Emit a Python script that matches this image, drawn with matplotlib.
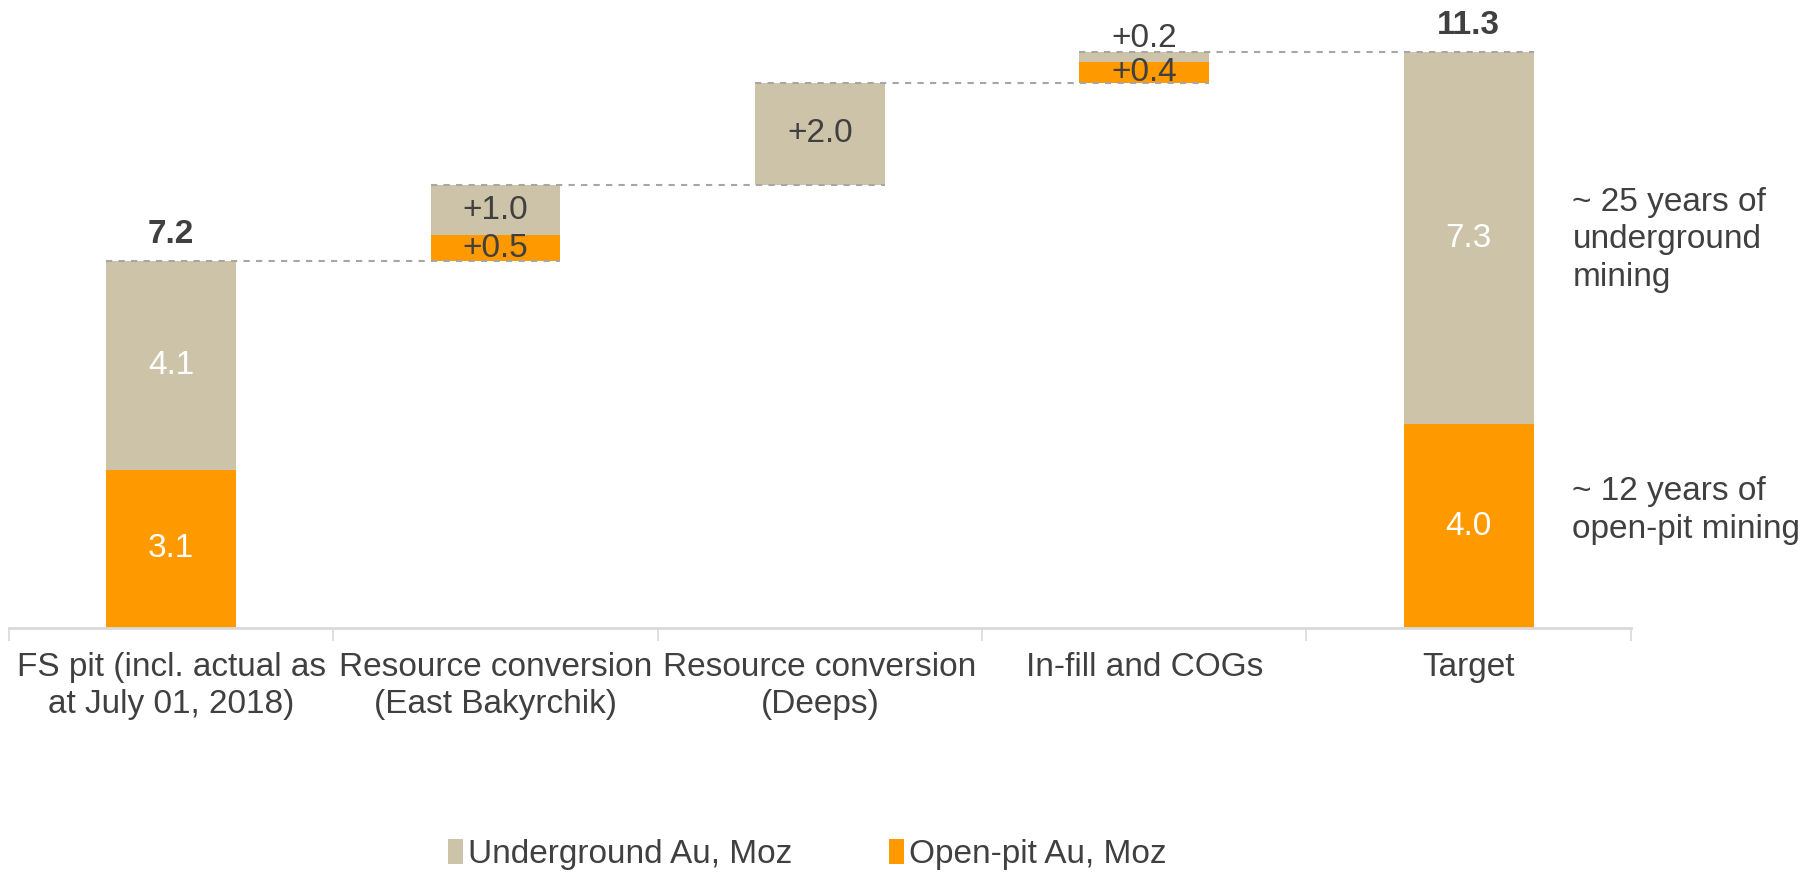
import numpy as np
import matplotlib.pyplot as plt

plt.rcParams['font.family'] = ['Liberation Sans', 'DejaVu Sans']

categories = ["FS pit (incl. actual as\nat July 01, 2018)",
              "Resource conversion\n(East Bakyrchik)",
              "Resource conversion\n(Deeps)",
              "In-fill and COGs",
              "Target"]
open_pit = [3.1, 0.5, 0.0, 0.4, 4.0]
underground = [4.1, 1.0, 2.0, 0.2, 7.3]
is_total = [True, False, False, False, True]
totals = {0: "7.2", 4: "11.3"}
notes = ["~ 25 years of\nunderground\nmining", "~ 12 years of\nopen-pit mining"]

TAN = '#CCC3A8'
ORANGE = '#FF9900'
DARK = '#404040'

fig = plt.figure(figsize=(18.06, 8.74), dpi=100)
ax = fig.add_axes([0.005, 0.2815, 0.898, 0.7185])

x = np.arange(len(categories))
w = 0.4

# waterfall bases
bases = []
run = 0.0
for i in range(len(categories)):
    if is_total[i]:
        bases.append(0.0)
        run = open_pit[i] + underground[i]
    else:
        bases.append(run)
        run += open_pit[i] + underground[i]
bases = np.array(bases)
op = np.array(open_pit)
ug = np.array(underground)
tops = bases + op + ug

ax.bar(x, op, w, bottom=bases, color=ORANGE, zorder=2, label='Open-pit Au, Moz')
ax.bar(x, ug, w, bottom=bases + op, color=TAN, zorder=2, label='Underground Au, Moz')

# connectors
for i in range(len(categories) - 1):
    ax.plot([x[i] - w / 2, x[i + 1] + w / 2], [tops[i], tops[i]],
            ls=(0, (3, 3)), color='#A6A6A6', lw=1.5, zorder=3)

fs = 24
for i in range(len(categories)):
    if is_total[i]:
        ax.text(x[i], bases[i] + op[i] / 2, f"{op[i]:.1f}", ha='center', va='center',
                color='white', fontsize=fs, zorder=4)
        ax.text(x[i], bases[i] + op[i] + ug[i] / 2, f"{ug[i]:.1f}", ha='center', va='center',
                color='white', fontsize=fs, zorder=4)
        ax.annotate(totals[i], (x[i], tops[i]), xytext=(0, 13), textcoords='offset points',
                    ha='center', va='baseline', fontsize=fs, fontweight='bold', color=DARK)
    else:
        if op[i] > 0:
            ax.text(x[i], bases[i] + op[i] / 2, f"+{op[i]:.1f}", ha='center', va='center',
                    color=DARK, fontsize=fs, zorder=4)
        if ug[i] >= 0.5:
            ax.text(x[i], bases[i] + op[i] + ug[i] / 2, f"+{ug[i]:.1f}", ha='center',
                    va='center', color=DARK, fontsize=fs, zorder=4)
        else:
            ax.text(x[i], tops[i] + 0.27, f"+{ug[i]:.1f}", ha='center', va='center',
                    color=DARK, fontsize=fs, zorder=4)

ax.text(4.32, 7.62, notes[0], ha='left', va='center', fontsize=fs, color=DARK,
        linespacing=1.27, clip_on=False)
ax.text(4.32, 2.3, notes[1], ha='left', va='center', fontsize=fs, color=DARK,
        linespacing=1.27, clip_on=False)

ax.set_xlim(-0.5, 4.5)
ax.set_ylim(0, 12.32)
ax.set_yticks([])
for s in ['top', 'right', 'left']:
    ax.spines[s].set_visible(False)
ax.spines['bottom'].set_color('#D9D9D9')
ax.spines['bottom'].set_linewidth(2)

ax.set_xticks(np.arange(-0.5, 5, 1.0))
ax.set_xticklabels([])
ax.tick_params(axis='x', length=9, width=1.2, color='#D9D9D9')
ax.set_xticks(x, minor=True)
ax.set_xticklabels(categories, minor=True, fontsize=fs, color=DARK, linespacing=1.27)
ax.tick_params(axis='x', which='minor', length=0, pad=17)

h, l = ax.get_legend_handles_labels()
fig.legend(h[::-1], l[::-1], loc='center', bbox_to_anchor=(0.447, 0.022), ncol=2, frameon=False,
           fontsize=fs, labelcolor=DARK, handlelength=0.45, handleheight=0.75,
           handletextpad=0.15, columnspacing=2.9)

fig.savefig('out.png', dpi=100)
